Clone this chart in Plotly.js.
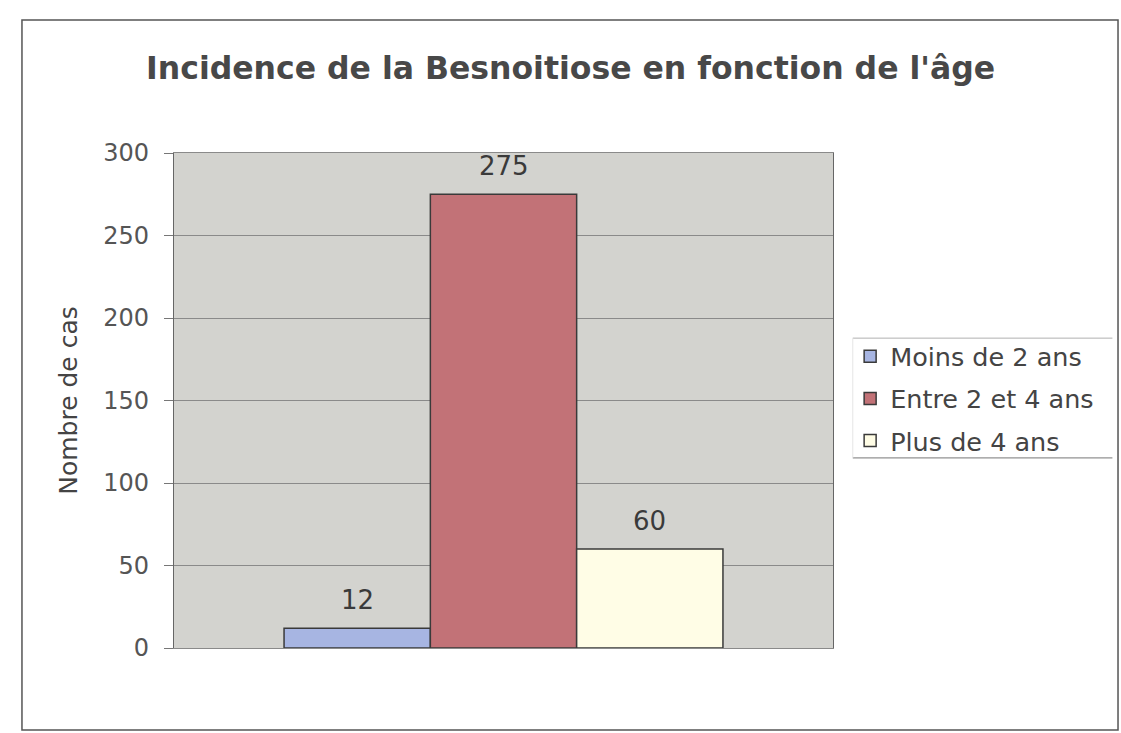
<!DOCTYPE html>
<html>
<head>
<meta charset="utf-8">
<script src="https://cdn.plot.ly/plotly-3.0.1.min.js"></script>
<style>html,body{margin:0;padding:0;background:#fff;}#chart{width:1121px;height:733px;}</style>
</head>
<body>
<div id="chart"></div>
<script>
const category = ["Âge"];
const seriesNames = ["Moins de 2 ans", "Entre 2 et 4 ans", "Plus de 4 ans"];
const moinsDe2 = [12];
const entre2et4 = [275];
const plusDe4 = [60];
const seriesValues = [moinsDe2, entre2et4, plusDe4];
const seriesColors = ["#a7b5e2", "#c27277", "#fffde6"];
const yTicks = [0, 50, 100, 150, 200, 250, 300];

const FONT = "DejaVu Sans, Verdana, sans-serif";
const BARGAP = 0.334;

const traces = seriesNames.map((n, i) => ({
  type: "bar",
  name: n,
  x: category,
  y: seriesValues[i],
  legendgroup: "g" + i,
  marker: {color: seriesColors[i], line: {color: "#3a3a3a", width: 1.5}}
}));

// value labels placed above each bar of the group
const barW = (1 - BARGAP) / seriesNames.length;
const annotations = [];
seriesValues.forEach((vals, i) => {
  vals.forEach((v, j) => {
    annotations.push({
      xref: "x", yref: "y",
      x: j + (i - (seriesNames.length - 1) / 2) * barW,
      y: v, text: String(v), showarrow: false,
      yanchor: "middle", yshift: 28,
      font: {family: FONT, size: 26, color: "#3a3a3a"}
    });
  });
});

const layout = {
  width: 1121, height: 733,
  margin: {l: 174, r: 288, t: 153, b: 85},
  paper_bgcolor: "#ffffff",
  plot_bgcolor: "#d3d3cf",
  barmode: "group",
  bargap: BARGAP,
  bargroupgap: 0,
  showlegend: true,
  title: {
    text: "<b>Incidence de la Besnoitiose en fonction de l'âge</b>",
    font: {family: FONT, size: 31.5, color: "#484848"},
    x: 0.509, xref: "container", xanchor: "center",
    y: 0.907, yref: "container", yanchor: "middle"
  },
  xaxis: {
    type: "category",
    showticklabels: false, ticks: "", showgrid: false, zeroline: false,
    showline: true, linecolor: "#8a8a8a", linewidth: 1, mirror: true
  },
  yaxis: {
    range: [0, 300], tickvals: yTicks, ticktext: yTicks.map(String),
    ticks: "outside", ticklen: 9, tickcolor: "#777", ticklabelstandoff: 10,
    tickfont: {family: FONT, size: 24, color: "#555555"},
    showgrid: true, gridcolor: "#8a8a8a", gridwidth: 1,
    zeroline: false, showline: true, linecolor: "#666", linewidth: 1.2, mirror: true,
    title: {text: "Nombre de cas", standoff: 18,
      font: {family: FONT, size: 25, color: "#444444"}}
  },
  annotations: annotations,
  legend: {
    x: 1.026, xanchor: "left", y: 0.636, yanchor: "top",
    font: {family: FONT, size: 25.5, color: "#444444"},
    bgcolor: "rgba(0,0,0,0)", borderwidth: 0,
    traceorder: "grouped", tracegroupgap: 6, itemwidth: 30
  },
  shapes: [
    {type: "rect", xref: "paper", yref: "paper", x0: -0.2307, x1: 1.4325, y0: -0.1657, y1: 1.2687,
     line: {color: "#555555", width: 1.5}},
    {type: "line", xref: "paper", yref: "paper", x0: 1.030, x1: 1.424, y0: 0.626, y1: 0.626,
     line: {color: "#b0b0b0", width: 1}},
    {type: "line", xref: "paper", yref: "paper", x0: 1.030, x1: 1.424, y0: 0.384, y1: 0.384,
     line: {color: "#777777", width: 1}},
    {type: "line", xref: "paper", yref: "paper", x0: 1.030, x1: 1.030, y0: 0.384, y1: 0.626,
     line: {color: "#e6e6e6", width: 1}}
  ]
};

Plotly.newPlot("chart", traces, layout, {displayModeBar: false, staticPlot: true});
</script>
</body>
</html>
